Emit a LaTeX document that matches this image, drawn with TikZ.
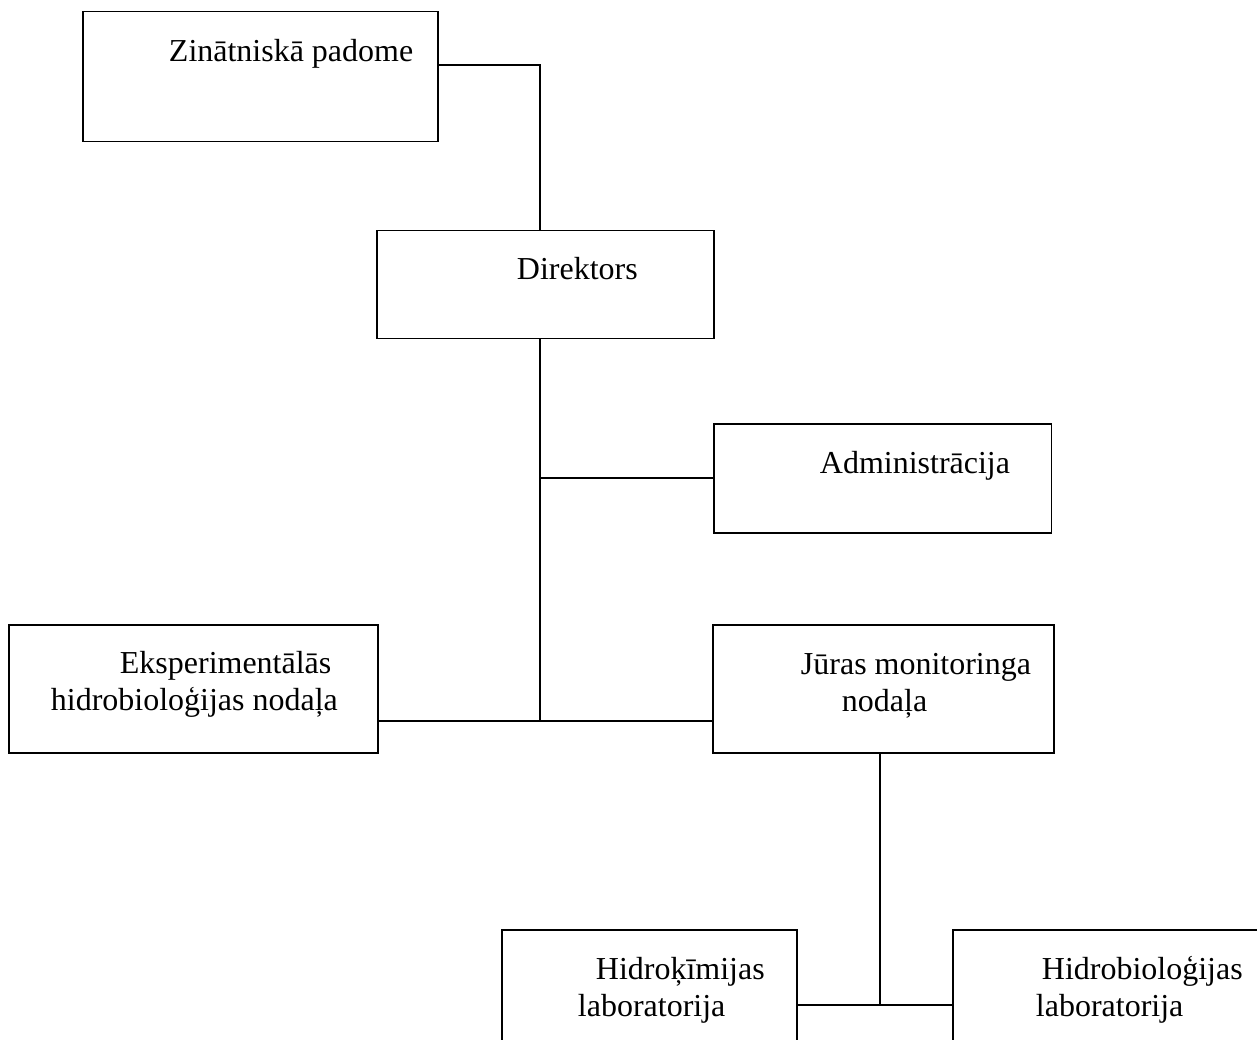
\documentclass[tikz,border=0pt]{standalone}
\usepackage{fontspec}
\setmainfont{Liberation Serif}
\begin{document}
\begin{tikzpicture}[x=0.02cm, y=-0.02cm, line width=1.1pt,
    box/.style={draw, inner sep=0pt},
    lbl/.style={anchor=base west, inner sep=0pt, align=left,
      font=\fontsize{18.2}{21}\selectfont}]

  \useasboundingbox (0,0) rectangle (1257,1039);
  \clip (0,0) rectangle (1257,1039);

  % Kastes
  \node[box, minimum width=7.1cm, minimum height=2.6cm] (zin) at (260.5,76.5) {};
  \node[box, minimum width=6.74cm, minimum height=2.16cm] (dir) at (545.5,284.5) {};
  \node[box, minimum width=6.76cm, minimum height=2.18cm] (adm) at (882.5,478.5) {};
  \node[box, minimum width=7.38cm, minimum height=2.56cm] (eks) at (193.5,689) {};
  \node[box, minimum width=6.82cm, minimum height=2.56cm] (jur) at (883.5,689) {};
  \node[box, minimum width=5.9cm, minimum height=2.6cm] (hk) at (649.5,995) {};
  \node[box, minimum width=6.24cm, minimum height=2.6cm] (hb) at (1109,995) {};

  % Teksti (divrindu tekstiem bāzes līnija ir pēdējā rindā)
  \node[lbl] (zinlbl) at (168,61) {Zinātniskā padome};
  \node[lbl] (dirlbl) at (516,279) {Direktors};
  \node[lbl] (admlbl) at (819,473) {Administrācija};
  \node[lbl] (ekslbl) at (50,710)
    {\hspace*{1.38cm}Eksperimentālās\\hidrobioloģijas nodaļa};
  \node[lbl] (jurlbl) at (800,711)
    {Jūras monitoringa\\\hspace*{0.82cm}nodaļa};
  \node[lbl] (hklbl) at (577,1016)
    {\hspace*{0.36cm}Hidroķīmijas\\laboratorija};
  \node[lbl] (hblbl) at (1035,1016)
    {\hspace*{0.12cm}Hidrobioloģijas\\laboratorija};

  % Savienojumi
  \coordinate (ztap) at (540,65);
  \coordinate (adjoin) at (540,478);
  \coordinate (ejoin) at (540,721);
  \coordinate (ljoin) at (880,1005);

  \draw (zin.east |- ztap) -- (ztap) -- (dir.north -| ztap);
  \draw (dir.south -| adjoin) -- (ejoin);
  \draw (adjoin) -- (adm.west |- adjoin);
  \draw (eks.east |- ejoin) -- (jur.west |- ejoin);
  \draw (jur.south -| ljoin) -- (ljoin);
  \draw (hk.east |- ljoin) -- (hb.west |- ljoin);

\end{tikzpicture}
\end{document}
